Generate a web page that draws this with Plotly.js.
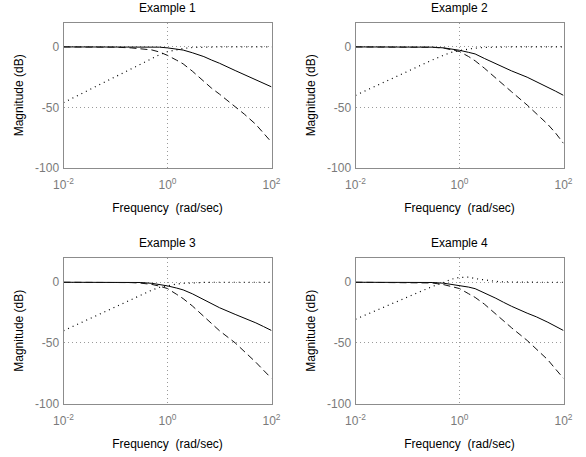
<!DOCTYPE html>
<html>
<head>
<meta charset="utf-8">
<script src="https://cdn.plot.ly/plotly-3.0.1.min.js"></script>
<style>html,body{margin:0;padding:0;background:#fff;}#chart{width:586px;height:457px;}</style>
</head>
<body>
<div id="chart"></div>
<script>
// Frequencies (rad/sec)
const freq = [0.01, 0.02, 0.05, 0.1, 0.2, 0.3, 0.5, 0.7, 1, 1.5, 2, 3, 5, 7, 10, 20, 30, 50, 70, 100];

const titles = ["Example 1", "Example 2", "Example 3", "Example 4"];
const xTickVals = [0.01, 1, 100];
const xTickText = ["10<sup>-2</sup>", "10<sup>0</sup>", "10<sup>2</sup>"];
const yTickVals = [-100, -50, 0];
const yTickText = ["-100", "-50", "0"];

// Magnitude (dB) — Example 1
const ex1Solid  = [0, 0, 0, 0, 0, 0, -0.1, -0.2, -0.8, -1.6, -2.6, -4.8, -8, -10.8, -13.5, -19.5, -23, -27, -30, -33];
const ex1Dashed = [0, 0, 0, -0.2, -0.8, -1.3, -2.5, -4.2, -7, -11, -14, -20, -28.5, -34, -39, -49, -55.5, -64, -71, -78.7];
const ex1Dotted = [-46, -39.5, -31, -24.5, -18, -14, -9.5, -6.5, -4, -2, -1.2, -0.5, -0.1, 0, 0, 0, 0, 0, 0, 0];

// Example 2
const ex2Solid  = [0, 0, 0, 0, 0, -0.2, -0.8, -1.6, -2.8, -4.5, -5.8, -9.5, -14, -17, -19.8, -25, -28.5, -33, -36.5, -40];
const ex2Dashed = [0, 0, 0, 0, -0.1, -0.3, -1, -2.2, -3.8, -8, -11.5, -17.5, -26, -31.5, -37, -48, -55, -64, -71, -79.6];
const ex2Dotted = [-40, -34, -26, -20, -14.2, -10.8, -6.8, -4.5, -3, -1.6, -1, -0.4, -0.1, 0, 0, 0, 0, 0, 0, 0];

// Example 3
const ex3Solid  = [0, 0, 0, 0, 0, -0.2, -0.9, -1.8, -3, -4.8, -6.3, -9.5, -14.5, -17.8, -21, -26.5, -29.5, -33.5, -36.5, -39.8];
const ex3Dashed = [0, 0, 0, 0, -0.3, -0.7, -1.8, -3.2, -5.2, -10, -13.5, -19.5, -28.5, -34.5, -40, -50, -57, -66, -72.5, -79.3];
const ex3Dotted = [-40, -34, -26, -20, -14, -10.5, -6.5, -4.2, -2.8, -1.5, -0.9, -0.4, -0.1, 0, 0, 0, 0, 0, 0, 0];

// Example 4
const ex4Solid  = [0, 0, 0, 0, 0, -0.2, -0.8, -1.6, -2.5, -4, -5.3, -8.5, -13.2, -16.5, -19.8, -25.5, -28.5, -33, -36.5, -39.8];
const ex4Dashed = [0, 0, 0, 0, -0.2, -0.6, -2, -3.5, -5.2, -9.5, -12.5, -18, -26.5, -32, -37.5, -48, -55, -64, -71.5, -79.3];
const ex4Dotted = [-30.5, -25, -17.5, -12, -6.5, -3.5, 0, 2.5, 4, 4.2, 3, 1.8, 0.7, 0.3, 0.1, 0, 0, 0, 0, 0];

const series = [
  [ex1Solid, ex1Dashed, ex1Dotted],
  [ex2Solid, ex2Dashed, ex2Dotted],
  [ex3Solid, ex3Dashed, ex3Dotted],
  [ex4Solid, ex4Dashed, ex4Dotted]
];

const W = 586, H = 457;
const xDomains = [[63.5 / W, 271.5 / W], [355.5 / W, 563.5 / W]];
const yDomains = [[1 - 168 / H, 1 - 22.7 / H], [1 - 403.5 / H, 1 - 258 / H]];

const lineStyles = [
  {color: "#000", width: 1, dash: "solid"},
  {color: "#111", width: 1, dash: "7px,4px"},
  {color: "#000", width: 1.2, dash: "1px,4px"}
];

const traces = [];
const layout = {
  width: W, height: H,
  margin: {l: 0, r: 0, t: 0, b: 0},
  paper_bgcolor: "#fff", plot_bgcolor: "#fff",
  showlegend: false,
  font: {family: "Liberation Sans, Arial, sans-serif", size: 12, color: "#000"},
  annotations: []
};

for (let i = 0; i < 4; i++) {
  const col = i % 2, row = Math.floor(i / 2);
  const suf = i === 0 ? "" : String(i + 1);
  for (let s = 0; s < 3; s++) {
    traces.push({
      x: freq, y: series[i][s], type: "scatter", mode: "lines",
      xaxis: "x" + suf, yaxis: "y" + suf,
      line: lineStyles[s], hoverinfo: "skip"
    });
  }
  layout["xaxis" + suf] = {
    domain: xDomains[col], anchor: "y" + suf,
    type: "log", range: [-2, 2],
    tickmode: "array", tickvals: xTickVals, ticktext: xTickText,
    ticks: "outside", ticklen: 6, tickcolor: "rgba(0,0,0,0)",
    showgrid: true, gridcolor: "#9a9a9a", griddash: "1px,3px", gridwidth: 1,
    showline: true, mirror: true, linecolor: "#8c8c8c", linewidth: 1,
    zeroline: false, fixedrange: true,
    tickfont: {size: 12, color: "#7a7a7a"},
    title: {text: "Frequency\u00a0\u00a0(rad/sec)", font: {size: 12, color: "#000"}, standoff: 12}
  };
  layout["yaxis" + suf] = {
    domain: yDomains[row], anchor: "x" + suf,
    range: [-100, 20],
    tickmode: "array", tickvals: yTickVals, ticktext: yTickText,
    ticks: "outside", ticklen: 1, tickcolor: "rgba(0,0,0,0)",
    showgrid: true, gridcolor: "#9a9a9a", griddash: "1px,3px", gridwidth: 1,
    showline: true, mirror: true, linecolor: "#8c8c8c", linewidth: 1,
    zeroline: false, fixedrange: true,
    tickfont: {size: 12, color: "#7a7a7a"},
    title: {text: "Magnitude (dB)", font: {size: 12, color: "#000"}, standoff: 8}
  };
  layout.annotations.push({
    text: titles[i], xref: "paper", yref: "paper",
    x: (xDomains[col][0] + xDomains[col][1]) / 2,
    y: yDomains[row][1] + 14.5 / H,
    xanchor: "center", yanchor: "middle", showarrow: false,
    font: {size: 12, color: "#000"}
  });
}

Plotly.newPlot("chart", traces, layout, {staticPlot: true, displayModeBar: false});
</script>
</body>
</html>
